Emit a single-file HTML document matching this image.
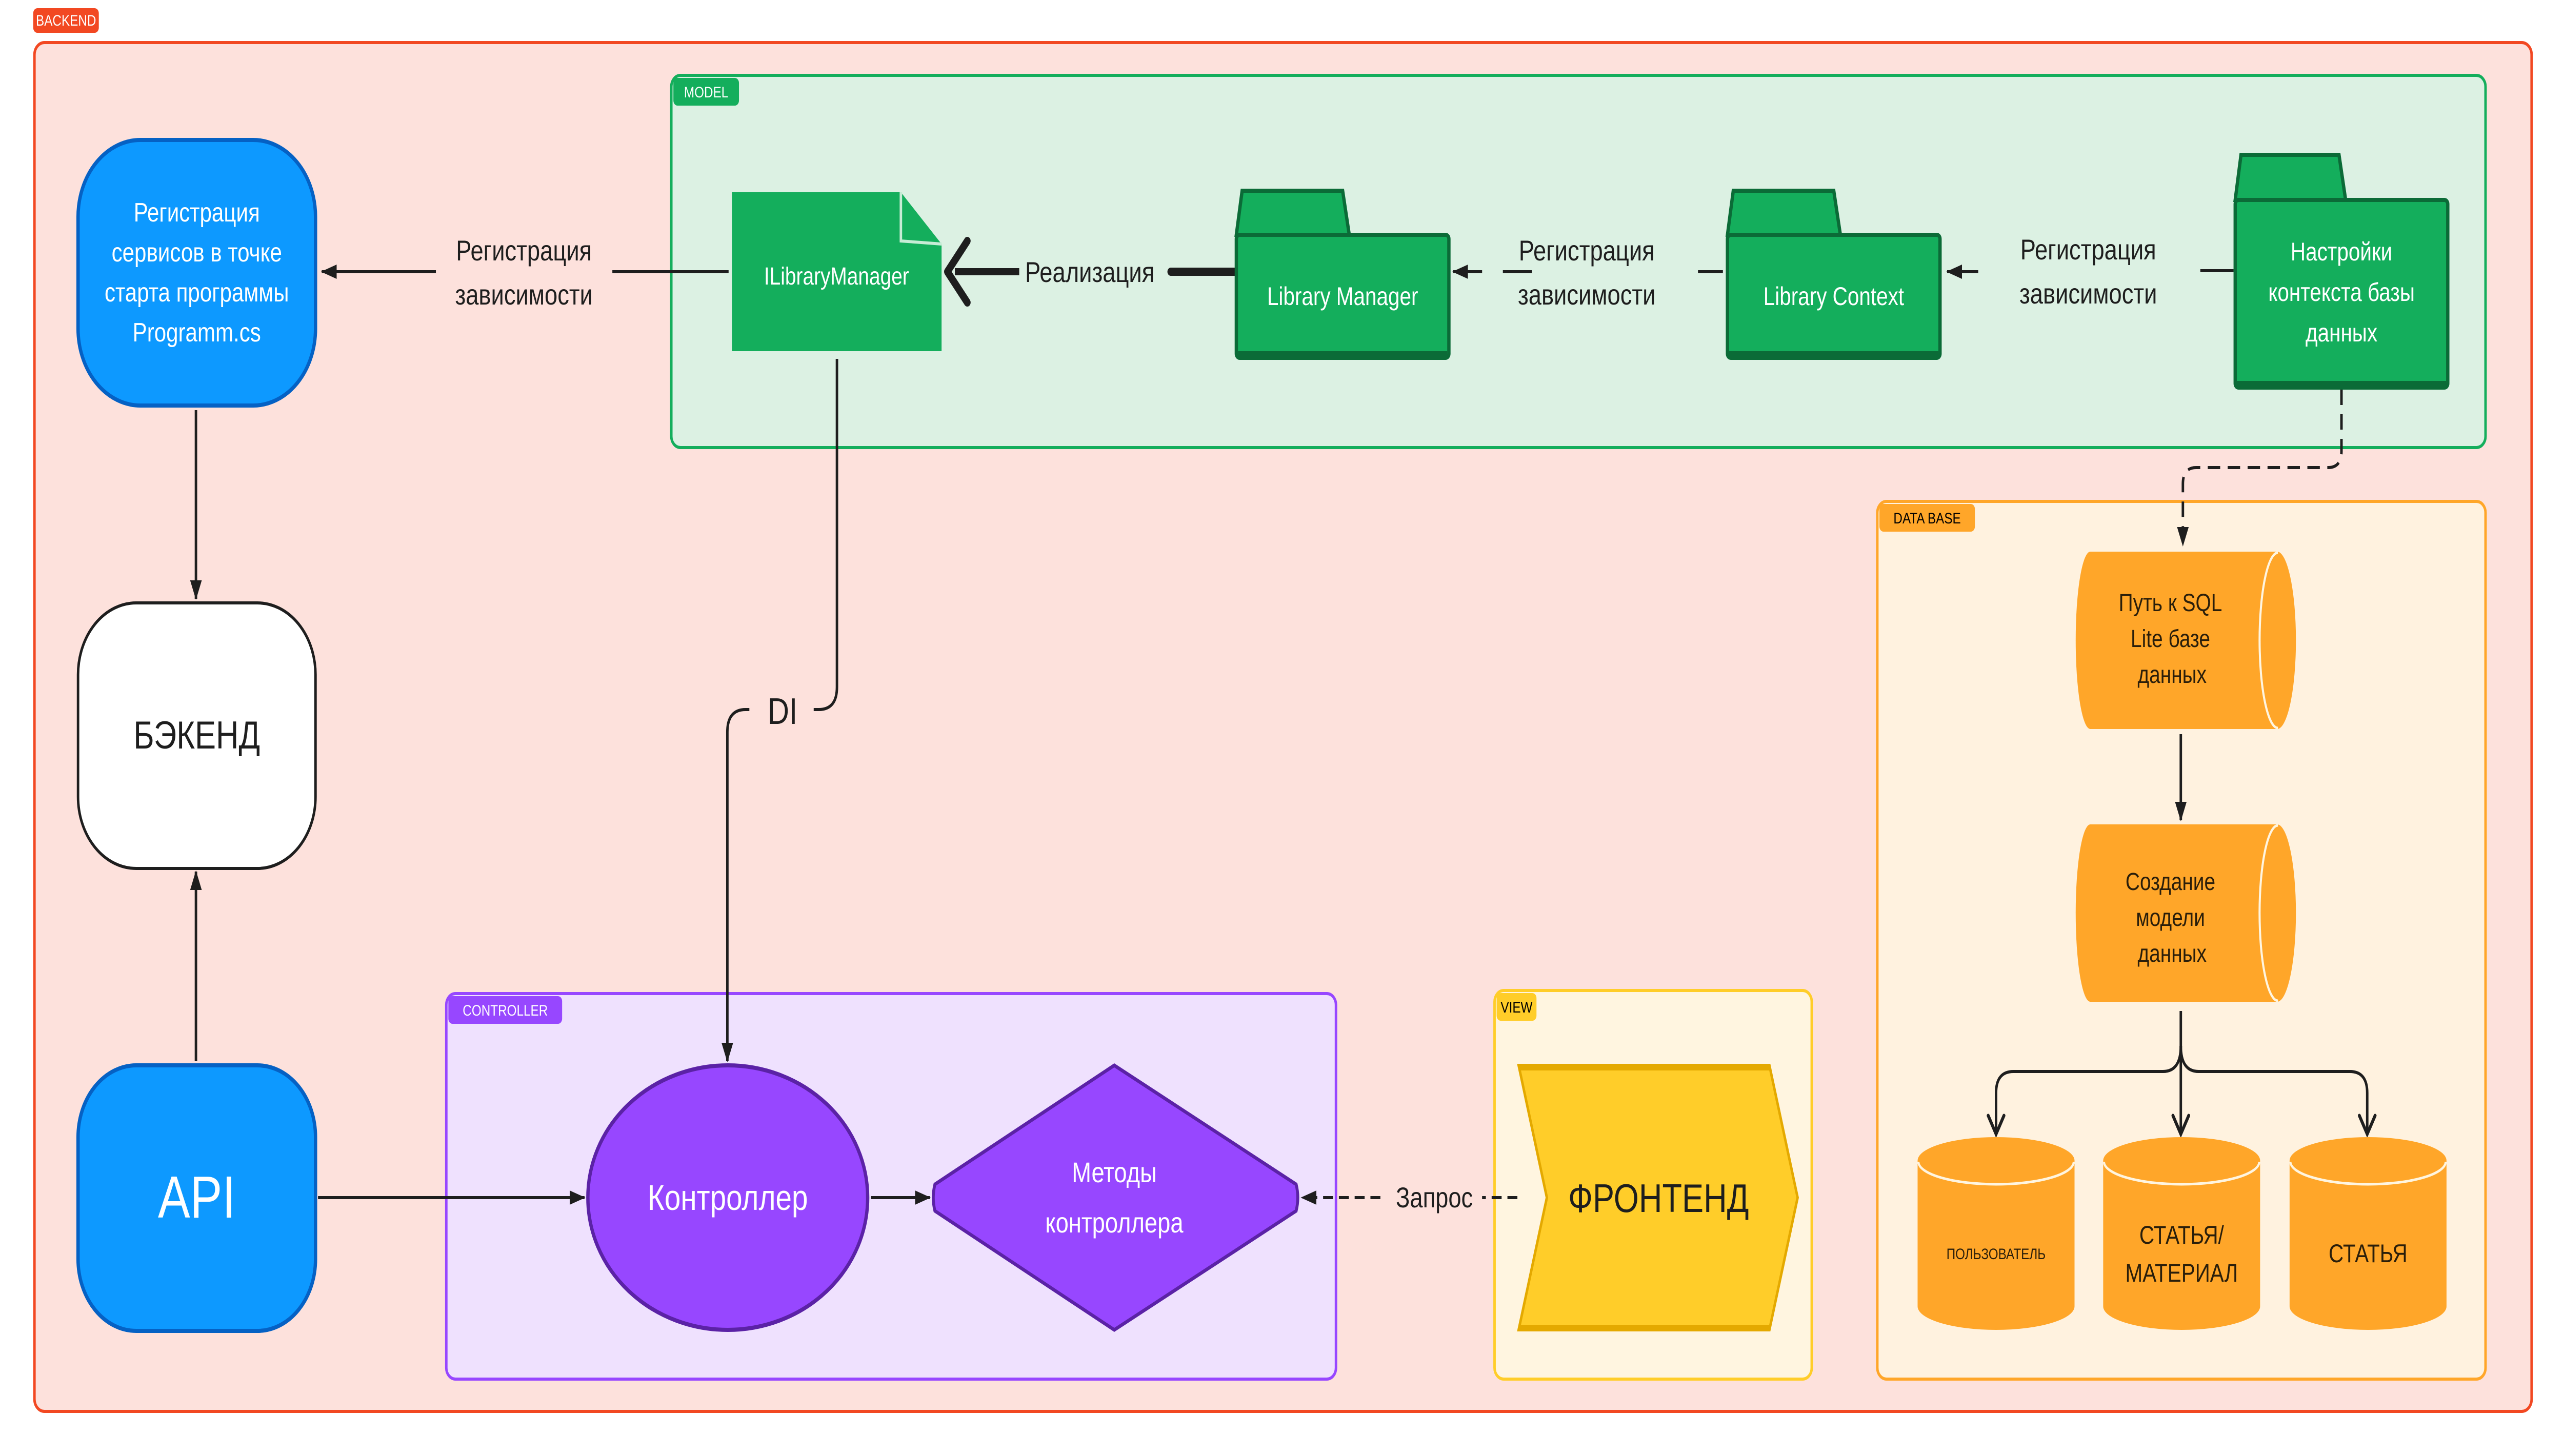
<!DOCTYPE html>
<html><head><meta charset="utf-8"><style>
html,body{margin:0;padding:0;background:#fff;width:100vw;height:100vh;overflow:hidden}
svg{display:block;width:100vw;height:100vh}
text{font-family:"Liberation Sans",sans-serif}
</style></head><body>
<svg viewBox="0 0 6176 2840" preserveAspectRatio="none" xmlns="http://www.w3.org/2000/svg">
<defs>
<marker id="a" markerWidth="40" markerHeight="40" refX="36" refY="20" orient="auto" markerUnits="userSpaceOnUse" viewBox="0 0 40 40"><path d="M0,6 L38,20 L0,34 Z" fill="#1e1e1e"/></marker>
<marker id="o" markerWidth="50" markerHeight="50" refX="44" refY="25" orient="auto" markerUnits="userSpaceOnUse" viewBox="0 0 50 50"><path d="M8,6 L44,25 L8,44" fill="none" stroke="#1e1e1e" stroke-width="7" stroke-linecap="round"/></marker>
</defs>
<!-- BACKEND -->
<rect x="80" y="16" width="158" height="48" rx="10" fill="#f24822"/>
<text x="159" y="50" font-size="30" fill="#fff" text-anchor="middle">BACKEND</text>
<rect x="83" y="83" width="6015" height="2670" rx="24" fill="#fde1dc" stroke="#f24822" stroke-width="6"/>

<!-- MODEL -->
<rect x="1617" y="147" width="4370" height="726" rx="22" fill="#dcf1e3" stroke="#14ae5c" stroke-width="6"/>
<rect x="1622" y="152" width="158" height="54" rx="10" fill="#14ae5c"/>
<text x="1701" y="190" font-size="30" fill="#fff" text-anchor="middle">MODEL</text>

<!-- DATA BASE -->
<rect x="4522" y="978" width="1465" height="1712" rx="22" fill="#fff2df" stroke="#ffa629" stroke-width="6"/>
<rect x="4527" y="983" width="230" height="54" rx="10" fill="#ffa629"/>
<text x="4642" y="1021" font-size="30" fill="#000" text-anchor="middle">DATA BASE</text>

<!-- CONTROLLER -->
<rect x="1075" y="1938" width="2143" height="752" rx="22" fill="#efe1fe" stroke="#9747ff" stroke-width="6"/>
<rect x="1080" y="1943" width="274" height="54" rx="10" fill="#9747ff"/>
<text x="1217" y="1981" font-size="30" fill="#fff" text-anchor="middle">CONTROLLER</text>

<!-- VIEW -->
<rect x="3600" y="1932" width="764" height="758" rx="22" fill="#fff5e0" stroke="#ffcd29" stroke-width="6"/>
<rect x="3605" y="1937" width="96" height="54" rx="10" fill="#ffcd29"/>
<text x="3653" y="1975" font-size="30" fill="#000" text-anchor="middle">VIEW</text>

<!-- connectors -->
<g stroke="#1e1e1e" stroke-width="6" fill="none">
<line x1="1755" y1="530" x2="1475" y2="530"/>
<line x1="1050" y1="530" x2="775" y2="530" marker-end="url(#a)"/>
<line x1="2975" y1="530" x2="2820" y2="530" stroke-width="16" stroke-linecap="round"/>
<path d="M2455,530 L2300,530" stroke-width="14"/>
<path d="M2330,470 L2282,530 L2330,590" stroke-width="16" stroke-linecap="round" stroke-linejoin="round"/>
<line x1="3690" y1="530" x2="3620" y2="530"/>
<line x1="3570" y1="530" x2="3500" y2="530" marker-end="url(#a)"/>
<line x1="4150" y1="530" x2="4090" y2="530"/>
<line x1="5380" y1="528" x2="5300" y2="528"/>
<line x1="4765" y1="530" x2="4690" y2="530" marker-end="url(#a)"/>
<path d="M5640,760 L5640,880 Q5640,912 5608,912 L5290,912 Q5258,912 5258,944 L5258,1064" stroke-dasharray="30,18" marker-end="url(#a)"/>
<path d="M2016,700 L2016,1340 Q2016,1384 1972,1384 L1960,1384"/>
<path d="M1805,1384 L1796,1384 Q1752,1384 1752,1428 L1752,2070" marker-end="url(#a)"/>
<line x1="472" y1="800" x2="472" y2="1168" marker-end="url(#a)"/>
<line x1="472" y1="2070" x2="472" y2="1700" marker-end="url(#a)"/>
<line x1="766" y1="2336" x2="1408" y2="2336" marker-end="url(#a)"/>
<line x1="2098" y1="2336" x2="2240" y2="2336" marker-end="url(#a)"/>
<line x1="3325" y1="2336" x2="3135" y2="2336" stroke-dasharray="24,14" marker-end="url(#a)"/>
<line x1="3655" y1="2336" x2="3570" y2="2336" stroke-dasharray="24,14"/>
<line x1="5253" y1="1432" x2="5253" y2="1600" marker-end="url(#a)"/>
<line x1="5253" y1="1972" x2="5253" y2="2212" marker-end="url(#o)"/>
<path d="M5253,2040 Q5253,2090 5210,2090 L4850,2090 Q4808,2090 4808,2132 L4808,2212" marker-end="url(#o)"/>
<path d="M5253,2040 Q5253,2090 5296,2090 L5660,2090 Q5702,2090 5702,2132 L5702,2212" marker-end="url(#o)"/>
</g>

<!-- labels -->
<g font-size="56" fill="#1e1e1e" text-anchor="middle">
<text x="1262" y="508">Регистрация</text>
<text x="1262" y="594">зависимости</text>
<text x="2625" y="550">Реализация</text>
<text x="3822" y="508">Регистрация</text>
<text x="3822" y="594">зависимости</text>
<text x="5030" y="506">Регистрация</text>
<text x="5030" y="592">зависимости</text>
<text x="1885" y="1412" font-size="72">DI</text>
<text x="3455" y="2355">Запрос</text>
</g>

<!-- blue nodes -->
<rect x="188" y="273" width="572" height="518" rx="150" fill="#0d99ff" stroke="#0561c4" stroke-width="8"/>
<g font-size="52" fill="#fff" text-anchor="middle">
<text x="474" y="432">Регистрация</text>
<text x="474" y="510">сервисов в точке</text>
<text x="474" y="588">старта программы</text>
<text x="474" y="666">Programm.cs</text>
</g>
<rect x="188" y="1176" width="572" height="518" rx="140" fill="#fff" stroke="#1e1e1e" stroke-width="6"/>
<text x="474" y="1460" font-size="76" fill="#1e1e1e" text-anchor="middle">БЭКЕНД</text>
<rect x="188" y="2078" width="572" height="518" rx="140" fill="#0d99ff" stroke="#0561c4" stroke-width="8"/>
<text x="474" y="2375" font-size="116" fill="#fff" text-anchor="middle">API</text>

<!-- ILibraryManager -->
<path d="M1763,375 L2170,375 L2268,476 L2268,685 L1763,685 Z" fill="#14ae5c"/>
<path d="M2170,375 L2170,470 L2268,476" fill="none" stroke="#c6ecd5" stroke-width="6"/>
<text x="2015" y="555" font-size="48" fill="#fff" text-anchor="middle">ILibraryManager</text>

<!-- folders -->
<g fill="#14ae5c" stroke="#0b6b37" stroke-width="8">
<path d="M2978,458 L2992,372 L3234,372 L3250,458 Z"/>
<rect x="2978" y="458" width="512" height="240" rx="8"/>
<path d="M4161,458 L4175,372 L4417,372 L4433,458 Z"/>
<rect x="4161" y="458" width="512" height="240" rx="8"/>
<path d="M5384,390 L5398,302 L5634,302 L5650,390 Z"/>
<rect x="5384" y="390" width="512" height="366" rx="8"/>
</g>
<g stroke="#0b6b37" stroke-width="14">
<line x1="2982" y1="692" x2="3486" y2="692"/><line x1="4165" y1="692" x2="4669" y2="692"/><line x1="5388" y1="750" x2="5892" y2="750"/>
</g>
<g font-size="50" fill="#fff" text-anchor="middle">
<text x="3234" y="595">Library Manager</text>
<text x="4417" y="595">Library Context</text>
<text x="5640" y="508">Настройки</text>
<text x="5640" y="587">контекста базы</text>
<text x="5640" y="666">данных</text>
</g>

<!-- horizontal cylinders -->
<g fill="#ffa629">
<path d="M5035,1076 L5485,1076 A45,172 0 0 1 5485,1422 L5035,1422 A35,172 0 0 1 5035,1076 Z"/>
<path d="M5035,1608 L5485,1608 A45,172 0 0 1 5485,1954 L5035,1954 A35,172 0 0 1 5035,1608 Z"/>
</g>
<g fill="none" stroke="#fff5e0" stroke-width="5">
<path d="M5487,1078 A44,170 0 0 0 5487,1420"/>
<path d="M5487,1610 A44,170 0 0 0 5487,1952"/>
</g>
<g font-size="48" fill="#2a1e0a" text-anchor="middle">
<text x="5228" y="1192">Путь к SQL</text>
<text x="5228" y="1262">Lite базе</text>
<text x="5232" y="1332">данных</text>
<text x="5228" y="1736">Создание</text>
<text x="5228" y="1806">модели</text>
<text x="5232" y="1876">данных</text>
</g>

<!-- vertical cylinders -->
<g fill="#ffa629">
<path d="M4619,2264 A189,46 0 0 1 4997,2264 L4997,2548 A189,46 0 0 1 4619,2548 Z"/>
<path d="M5066,2264 A189,46 0 0 1 5444,2264 L5444,2548 A189,46 0 0 1 5066,2548 Z"/>
<path d="M5515,2264 A189,46 0 0 1 5893,2264 L5893,2548 A189,46 0 0 1 5515,2548 Z"/>
</g>
<g fill="none" stroke="#fff5e0" stroke-width="5">
<path d="M4621,2266 A187,44 0 0 0 4995,2266"/>
<path d="M5068,2266 A187,44 0 0 0 5442,2266"/>
<path d="M5517,2266 A187,44 0 0 0 5891,2266"/>
</g>
<g fill="#2a1e0a" text-anchor="middle">
<text x="4808" y="2456" font-size="30">ПОЛЬЗОВАТЕЛЬ</text>
<text x="5255" y="2426" font-size="50">СТАТЬЯ/</text>
<text x="5255" y="2500" font-size="50">МАТЕРИАЛ</text>
<text x="5704" y="2462" font-size="50">СТАТЬЯ</text>
</g>

<!-- controller shapes -->
<ellipse cx="1753" cy="2336" rx="337" ry="258" fill="#9747ff" stroke="#5b22a6" stroke-width="8"/>
<text x="1753" y="2360" font-size="70" fill="#fff" text-anchor="middle">Контроллер</text>
<path d="M2684,2078 L3122,2310 Q3130,2336 3122,2362 L2684,2594 L2252,2362 Q2244,2336 2252,2310 Z" fill="#9747ff" stroke="#5b22a6" stroke-width="7"/>
<text x="2684" y="2306" font-size="56" fill="#fff" text-anchor="middle">Методы</text>
<text x="2684" y="2404" font-size="56" fill="#fff" text-anchor="middle">контроллера</text>

<!-- frontend -->
<path d="M3658,2078 L4262,2078 L4330,2336 L4262,2594 L3658,2594 L3726,2336 Z" fill="#ffcd29" stroke="#e4a900" stroke-width="6"/>
<line x1="3660" y1="2082" x2="4262" y2="2082" stroke="#e4a900" stroke-width="12"/>
<line x1="3660" y1="2590" x2="4262" y2="2590" stroke="#e4a900" stroke-width="12"/>
<text x="3995" y="2364" font-size="78" fill="#1e1e1e" text-anchor="middle">ФРОНТЕНД</text>
</svg>
</body></html>
